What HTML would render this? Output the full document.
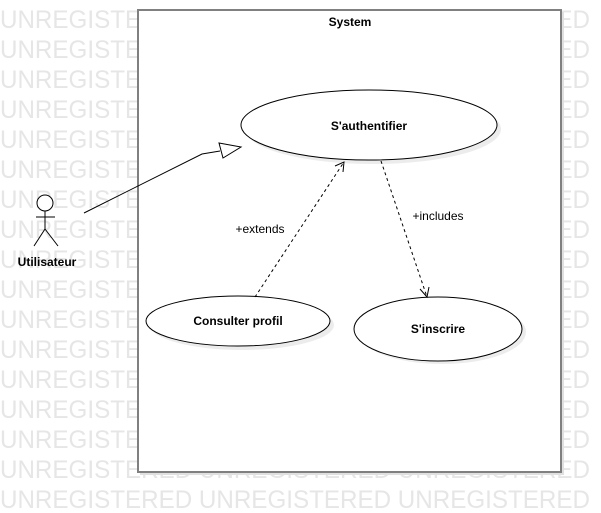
<!DOCTYPE html>
<html><head><meta charset="utf-8"><style>
html,body{margin:0;padding:0;background:#fff;width:601px;height:513px;overflow:hidden}
</style></head><body>
<svg width="601" height="513" viewBox="0 0 601 513" xmlns="http://www.w3.org/2000/svg" font-family="Liberation Sans, sans-serif">
<g fill="#e6e6e6" font-size="25">
<text x="0" y="28" textLength="590" lengthAdjust="spacingAndGlyphs">UNREGISTERED UNREGISTERED UNREGISTERED</text>
<text x="0" y="58" textLength="590" lengthAdjust="spacingAndGlyphs">UNREGISTERED UNREGISTERED UNREGISTERED</text>
<text x="0" y="88" textLength="590" lengthAdjust="spacingAndGlyphs">UNREGISTERED UNREGISTERED UNREGISTERED</text>
<text x="0" y="118" textLength="590" lengthAdjust="spacingAndGlyphs">UNREGISTERED UNREGISTERED UNREGISTERED</text>
<text x="0" y="148" textLength="590" lengthAdjust="spacingAndGlyphs">UNREGISTERED UNREGISTERED UNREGISTERED</text>
<text x="0" y="178" textLength="590" lengthAdjust="spacingAndGlyphs">UNREGISTERED UNREGISTERED UNREGISTERED</text>
<text x="0" y="208" textLength="590" lengthAdjust="spacingAndGlyphs">UNREGISTERED UNREGISTERED UNREGISTERED</text>
<text x="0" y="238" textLength="590" lengthAdjust="spacingAndGlyphs">UNREGISTERED UNREGISTERED UNREGISTERED</text>
<text x="0" y="268" textLength="590" lengthAdjust="spacingAndGlyphs">UNREGISTERED UNREGISTERED UNREGISTERED</text>
<text x="0" y="298" textLength="590" lengthAdjust="spacingAndGlyphs">UNREGISTERED UNREGISTERED UNREGISTERED</text>
<text x="0" y="328" textLength="590" lengthAdjust="spacingAndGlyphs">UNREGISTERED UNREGISTERED UNREGISTERED</text>
<text x="0" y="358" textLength="590" lengthAdjust="spacingAndGlyphs">UNREGISTERED UNREGISTERED UNREGISTERED</text>
<text x="0" y="388" textLength="590" lengthAdjust="spacingAndGlyphs">UNREGISTERED UNREGISTERED UNREGISTERED</text>
<text x="0" y="418" textLength="590" lengthAdjust="spacingAndGlyphs">UNREGISTERED UNREGISTERED UNREGISTERED</text>
<text x="0" y="448" textLength="590" lengthAdjust="spacingAndGlyphs">UNREGISTERED UNREGISTERED UNREGISTERED</text>
<text x="0" y="478" textLength="590" lengthAdjust="spacingAndGlyphs">UNREGISTERED UNREGISTERED UNREGISTERED</text>
<text x="0" y="508" textLength="590" lengthAdjust="spacingAndGlyphs">UNREGISTERED UNREGISTERED UNREGISTERED</text>
</g>
<!-- system box -->
<rect x="140" y="12" width="424" height="463" fill="#e0e0e0"/>
<rect x="138" y="10" width="423" height="462" fill="#fff" stroke="#808080" stroke-width="2"/>
<text x="350" y="26" font-size="12" font-weight="bold" text-anchor="middle">System</text>
<!-- ellipses -->
<ellipse cx="373" cy="129" rx="128" ry="35" fill="#ececec"/>
<ellipse cx="369" cy="125" rx="128" ry="35" fill="#fff" stroke="#000"/>
<text x="369" y="130" font-size="12" font-weight="bold" text-anchor="middle">S'authentifier</text>
<ellipse cx="242" cy="325" rx="92" ry="25" fill="#ececec"/>
<ellipse cx="238" cy="321" rx="92" ry="25" fill="#fff" stroke="#000"/>
<text x="238" y="325" font-size="12" font-weight="bold" text-anchor="middle">Consulter profil</text>
<ellipse cx="442" cy="332" rx="84" ry="32" fill="#ececec"/>
<ellipse cx="438" cy="329" rx="84" ry="32" fill="#fff" stroke="#000"/>
<text x="438" y="333" font-size="12" font-weight="bold" text-anchor="middle">S'inscrire</text>
<!-- actor -->
<g stroke="#000" fill="none">
<circle cx="45" cy="203" r="8" fill="#fff"/>
<line x1="45" y1="211" x2="45" y2="229"/>
<line x1="36" y1="217" x2="55" y2="217"/>
<line x1="45" y1="229" x2="34" y2="246"/>
<line x1="45" y1="229" x2="58" y2="246"/>
</g>
<text x="47" y="266" font-size="12" font-weight="bold" text-anchor="middle">Utilisateur</text>
<!-- generalization -->
<polyline points="84,213 202,154 220,151" fill="none" stroke="#000"/>
<polygon points="219,143 241,147 223,158" fill="#fff" stroke="#000"/>
<!-- extends -->
<line x1="255" y1="297" x2="344" y2="162" stroke="#000" stroke-dasharray="3,3"/>
<polyline points="335,166 344,162 343,172" fill="none" stroke="#000"/>
<text x="260" y="233" font-size="12" text-anchor="middle">+extends</text>
<!-- includes -->
<line x1="381" y1="161" x2="427" y2="297" stroke="#000" stroke-dasharray="3,3"/>
<polyline points="420,289 427,297 429,287" fill="none" stroke="#000"/>
<text x="438" y="220" font-size="12" text-anchor="middle">+includes</text>
</svg>
</body></html>
